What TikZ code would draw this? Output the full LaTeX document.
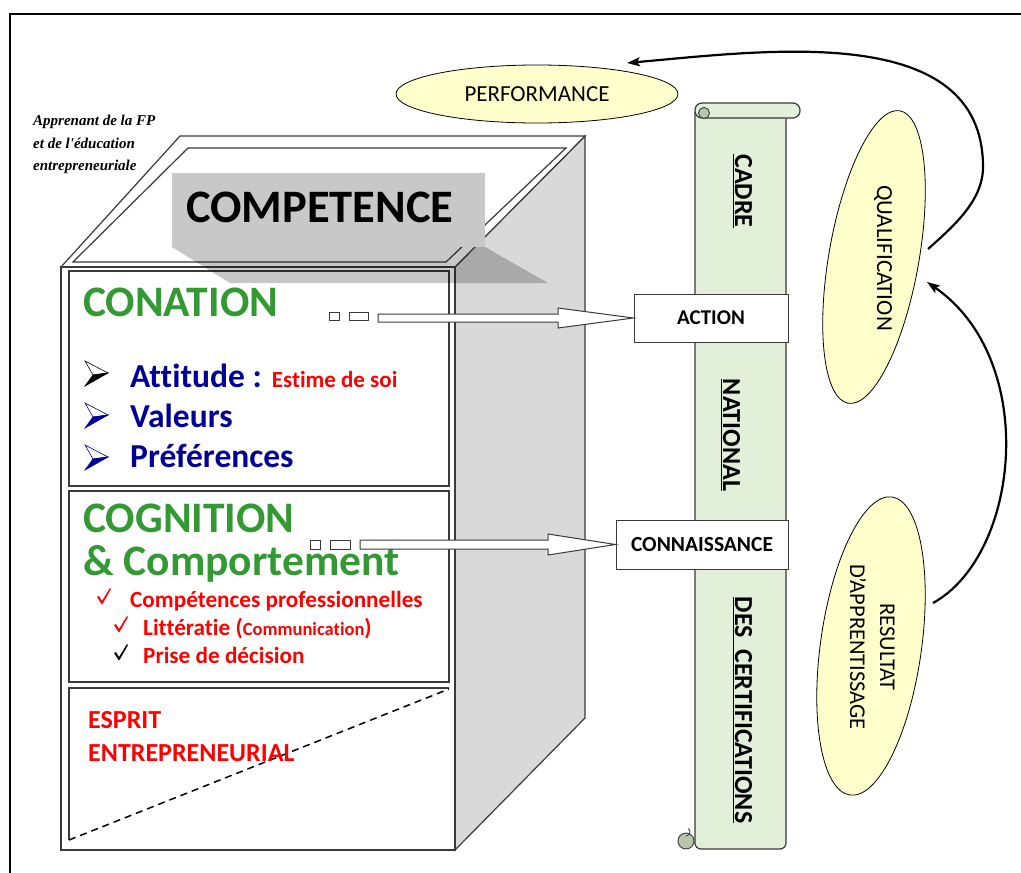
\documentclass[tikz,border=0pt]{standalone}
\usepackage{fontspec}
\setmainfont{Carlito}[Ligatures={NoCommon}]
\newfontfamily\tnr{Liberation Serif}
\usetikzlibrary{shapes.geometric,arrows.meta}
\definecolor{sidegrey}{HTML}{D9D9D9}
\definecolor{boxgrey}{HTML}{C8C8C8}
\definecolor{scrollgreen}{HTML}{E2EFD9}
\definecolor{curlgreen}{HTML}{B8C6AD}
\definecolor{ellyellow}{HTML}{FFFFCC}
\definecolor{cgreen}{HTML}{339933}
\definecolor{cblue}{HTML}{000096}
\definecolor{cred}{HTML}{FF0000}
\definecolor{edge}{HTML}{3A3A3A}
\newcommand{\fs}[2]{\fontsize{#1}{#2}\selectfont}
\newcommand{\arrbullet}[3]{%
  \filldraw[draw=#3,fill=white,line width=0.6pt] (#1,#2-12) -- (#1+23,#2) -- (#1+8,#2+2) -- cycle;
  \filldraw[draw=#3,fill=#3,line width=0.6pt] (#1+8,#2+2) -- (#1+23,#2) -- (#1,#2+13) -- cycle;}
\newcommand{\chkmark}[3]{%
  \fill[#3] (#1,#2-6) -- (#1+2,#2-7) -- (#1+5,#2-2) -- (#1+13,#2-15) -- (#1+14,#2-14) -- (#1+5.5,#2+1) -- (#1+4.5,#2+1) -- cycle;}
\begin{document}
\begin{tikzpicture}[x=1pt,y=-1pt,
  edgeline/.style={draw=edge,line width=1.2pt},
  txt/.style={anchor=base west,inner sep=0pt},
  labelbox/.style={draw=edge,fill=white,line width=1pt,inner sep=0pt,font=\fs{21}{21}\bfseries},
  ellnode/.style={ellipse,draw=black,fill=ellyellow,line width=0.8pt,inner sep=0pt},
  blockarrow/.style={draw=edge,fill=white,line width=1pt},
  curvearrow/.style={line width=2.2pt,-{Stealth[length=13pt,width=9pt,inset=3pt]}},
  scrolltxt/.style={rotate=-90,anchor=base,inner sep=0pt,font=\fs{26}{26}\bfseries},
  ]
\useasboundingbox (0,0) rectangle (1021,873);
\fill[white] (0,0) rectangle (1021,873);
% outer frame
\draw[line width=2.5pt] (10,873) -- (10,14) -- (1021,14);

% Apprenant text
\node[txt,font=\fs{15}{15}\tnr\bfseries\itshape] (appr1) at (33,125) {Apprenant de la FP};
\node[txt,font=\fs{15}{15}\tnr\bfseries\itshape] (appr2) at (33,148) {et de l'éducation};
\node[txt,font=\fs{15}{15}\tnr\bfseries\itshape] (appr3) at (33,170) {entrepreneuriale};

% the box: side face
\draw[edgeline,fill=sidegrey] (455,267) -- (585,136) -- (585,718) -- (455,850) -- cycle;
% top face
\draw[edgeline,fill=white] (180,136) -- (585,136) -- (455,267) -- (61,267) -- cycle;
\draw[edgeline] (188,148) -- (566,148) -- (446,262) -- (73,262) -- cycle;
% front face
\draw[edgeline,fill=white] (61,267) rectangle (455,850);
\draw[edgeline] (69,271) rectangle (449,486);
\draw[edgeline] (69,491) rectangle (449,682);
\draw[edgeline] (69,840) -- (69,688) -- (449,688);
\draw[draw=black,line width=1.5pt,dash pattern=on 7pt off 5pt] (69,840) -- (449,689);

% shadow and COMPETENCE box
\fill[black,opacity=0.22] (172,247) -- (485,247) -- (548,283) -- (230,283) -- cycle;
\node[fill=boxgrey,minimum width=313pt,minimum height=74pt,inner sep=0pt,anchor=north west] (compbox) at (172,173) {};
\node[txt,font=\fs{46.5}{46.5}\bfseries] (comptext) at (186,222) {COMPETENCE};

% CONATION panel
\node[txt,font=\fs{43.5}{43.5}\bfseries,text=cgreen] (conation) at (83,316) {CONATION};
\arrbullet{85}{373}{black}
\arrbullet{85}{415}{cblue}
\arrbullet{85}{457}{cblue}
\node[txt,text=cblue,font=\fs{33.5}{33.5}\bfseries] (attitude) at (130,387) {Attitude : {\fs{23}{23}\color{cred}Estime de soi}};
\node[txt,text=cblue,font=\fs{33.5}{33.5}\bfseries] (valeurs) at (130,427) {Valeurs};
\node[txt,text=cblue,font=\fs{33.5}{33.5}\bfseries] (pref) at (130,467) {Préférences};

% COGNITION panel
\node[txt,font=\fs{43.5}{43.5}\bfseries,text=cgreen] (cognition) at (83,532) {COGNITION};
\node[txt,font=\fs{43.5}{43.5}\bfseries,text=cgreen] (comport) at (83,575) {\& Comportement};
\chkmark{97}{603}{cred}
\chkmark{114}{631}{cred}
\chkmark{114}{659}{black}
\node[txt,text=cred,font=\fs{23.2}{23.2}\bfseries] (compro) at (130,607) {Compétences professionnelles};
\node[txt,text=cred,font=\fs{23.2}{23.2}\bfseries] (litt) at (143,635) {Littératie ({\fs{18.5}{18.5}Communication})};
\node[txt,text=cred,font=\fs{23.2}{23.2}\bfseries] (prise) at (143,663) {Prise de décision};

% ESPRIT panel
\node[txt,text=cred,font=\fs{26}{26}\bfseries] (esprit) at (88,728) {ESPRIT};
\node[txt,text=cred,font=\fs{26}{26}\bfseries] (entre) at (88,761) {ENTREPRENEURIAL};

% scroll
\draw[edgeline,fill=scrollgreen,rounded corners=6pt] (695,112) -- (695,849) -- (786,849) -- (786,112);
\draw[edgeline,fill=scrollgreen,rounded corners=7pt] (695,103) rectangle (800,118);
\draw[edgeline,fill=curlgreen,line width=0.9pt] (704,113) circle (5.5);
\draw[edgeline,fill=curlgreen,line width=0.9pt] (686,841) circle (8);
\draw[edgeline,line width=0.8pt] (686,836) arc (90:-60:4);
\node[scrolltxt] (cadre) at (735,191) {\underline{CADRE}};
\node[scrolltxt] (national) at (723,435) {\underline{NATIONAL}};
\node[scrolltxt] (descert) at (735,710) {\underline{DES\ \ CERTIFICATIONS}};

% label boxes
\node[labelbox,minimum width=154pt,minimum height=48pt] (action) at (711,318) {ACTION};
\node[labelbox,minimum width=172pt,minimum height=49pt,font=\fs{21.5}{21.5}\bfseries] (connaiss) at (702,544.5) {CONNAISSANCE};

% block arrows
\draw[blockarrow] (329,312) rectangle (339,320);
\draw[blockarrow] (349,312) rectangle (368,320);
\draw[blockarrow] (378,314) -- (558,314) -- (558,308) -- (action.west) -- (558,328) -- (558,322) -- (378,322) -- cycle;
\draw[blockarrow] (310,540) rectangle (320,549);
\draw[blockarrow] (330,540) rectangle (350,549);
\draw[blockarrow] (360,540) -- (548,540) -- (548,534) -- (connaiss.west) -- (548,555) -- (548,549) -- (360,549) -- cycle;

% ellipses
\node[ellnode,minimum width=282pt,minimum height=58pt,font=\fs{23}{23}] (perf) at (537,94) {PERFORMANCE};
\node[ellnode,minimum width=297pt,minimum height=90pt,rotate=80] (qual) at (874,257) {};
\node[rotate=-90,anchor=base,inner sep=0pt,font=\fs{23}{23}] (qualtext) at (877,258) {QUALIFICATION};
\node[ellnode,minimum width=301pt,minimum height=101pt,rotate=82] (resul) at (871,646) {};
\node[rotate=-90,anchor=base,inner sep=0pt,font=\fs{22.5}{22.5}] (resul1) at (880,647) {RESULTAT};
\node[rotate=-90,anchor=base,inner sep=0pt,font=\fs{22.5}{22.5}] (resul2) at (850,647) {D'APPRENTISSAGE};

% curved arrows
\coordinate (q1) at (928,249);
\coordinate (p1) at (627,63);
\coordinate (r1) at (933,603);
\coordinate (q2) at (927,282);
\draw[curvearrow] (q1) .. controls (955,225) and (983,200) .. (983,167) .. controls (983,22) and (771,50) .. (p1);
\draw[curvearrow] (r1) .. controls (1020,555) and (1040,360) .. (q2);
\end{tikzpicture}
\end{document}
